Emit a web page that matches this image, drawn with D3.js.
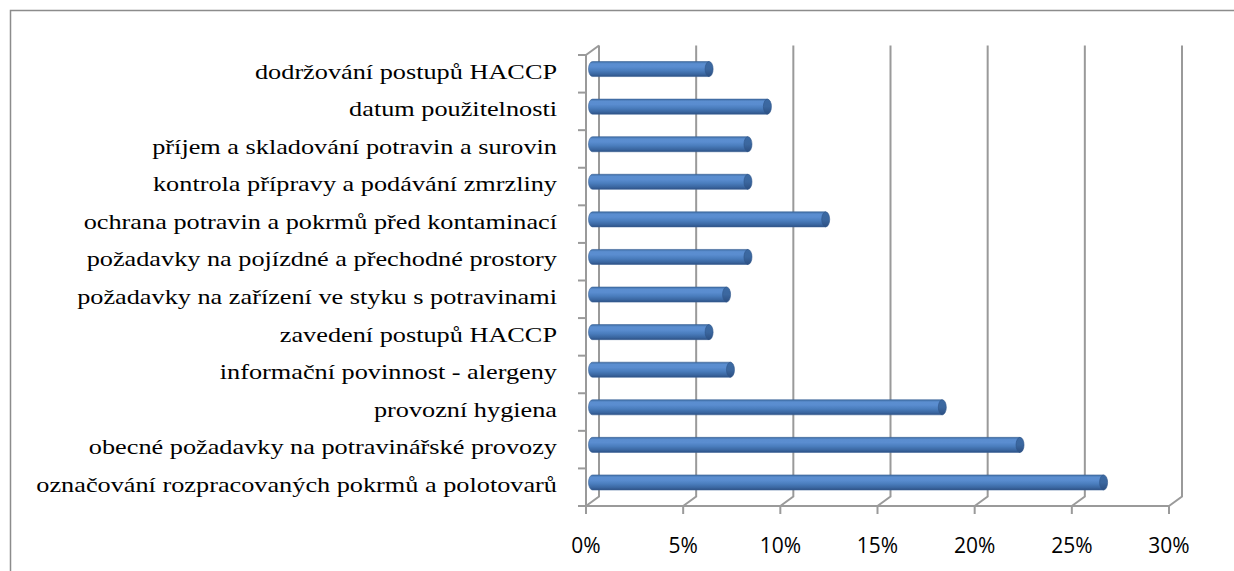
<!DOCTYPE html>
<html>
<head>
<meta charset="utf-8">
<script src="https://cdn.jsdelivr.net/npm/d3@7"></script>
<style>
  html, body { margin: 0; padding: 0; background: #fff; overflow: hidden; }
  #chart { width: 1234px; height: 571px; }
  .cat { font-family: 'Liberation Serif', 'DejaVu Serif', serif; font-size: 22px; }
  .tick { font-family: 'Open Sans', 'Liberation Sans', sans-serif; font-size: 21px; }
</style>
</head>
<body>
<div id="chart"></div>
<script>
// kategorie shora dolů
const categories = [
  'dodržování postupů HACCP',
  'datum použitelnosti',
  'příjem a skladování potravin a surovin',
  'kontrola přípravy a podávání zmrzliny',
  'ochrana potravin a pokrmů před kontaminací',
  'požadavky na pojízdné a přechodné prostory',
  'požadavky na zařízení ve styku s potravinami',
  'zavedení postupů HACCP',
  'informační povinnost - alergeny',
  'provozní hygiena',
  'obecné požadavky na potravinářské provozy',
  'označování rozpracovaných pokrmů a polotovarů'
];
const values = [6.0, 9.0, 8.0, 8.0, 12.0, 8.0, 6.9, 6.0, 7.1, 18.0, 22.0, 26.3];
const tickValues = [0, 5, 10, 15, 20, 25, 30];

const width = 1234, height = 571;
const svg = d3.select('#chart').append('svg')
  .attr('width', width)
  .attr('height', height);

// hloubka 3D
const dx = 13, dy = -9.5;

const x = d3.scaleLinear().domain([0, 30]).range([586, 1169]);
const y = d3.scaleBand().domain(categories).range([55, 506]).paddingInner(0.6).paddingOuter(0.3);
const yb = d3.scaleBand().domain(categories).range([55, 506]);

// rámeček
svg.append('rect')
  .attr('x', 10.5).attr('y', 10.5)
  .attr('width', 1300).attr('height', 700)
  .attr('fill', 'none').attr('stroke', '#8c8c8c').attr('stroke-width', 1.5);

const wall = svg.append('g').attr('stroke', '#9a9a9a').attr('stroke-width', 2).attr('fill', 'none');
const yTop = yb.range()[0], yBot = yb.range()[1];

// zadní stěna - mřížka + podlaha
tickValues.forEach(t => {
  wall.append('path')
    .attr('d', `M${x(t) + dx},${yTop + dy} L${x(t) + dx},${yBot + dy} L${x(t)},${yBot}`);
});
// levá stěna
wall.append('path').attr('d', `M${x(0)},${yBot} L${x(0)},${yTop} L${x(0) + dx},${yTop + dy}`);
// přední hrana podlahy
wall.append('path').attr('d', `M${x(0)},${yBot} L${x(30)},${yBot}`);

// tick marks
const ticksY = categories.map(c => yb(c)).concat([yBot]);
ticksY.forEach(v => {
  wall.append('line').attr('x1', x(0) - 8).attr('x2', x(0)).attr('y1', v).attr('y2', v);
});
tickValues.forEach(t => {
  wall.append('line').attr('x1', x(t)).attr('x2', x(t)).attr('y1', yBot).attr('y2', yBot + 8);
});

// gradient válce
const defs = svg.append('defs');
const grad = defs.append('linearGradient').attr('id', 'cyl')
  .attr('x1', 0).attr('y1', 0).attr('x2', 0).attr('y2', 1);
[[0, '#3f6ea6'], [0.15, '#5b8ed0'], [0.35, '#5a8dd0'], [0.6, '#4a7dbd'], [0.85, '#3a66a0'], [1, '#2d5185']]
  .forEach(s => grad.append('stop').attr('offset', s[0]).attr('stop-color', s[1]));
const capGrad = defs.append('linearGradient').attr('id', 'cap')
  .attr('x1', 0).attr('y1', 0).attr('x2', 0).attr('y2', 1);
[[0, '#3c6aa3'], [0.5, '#3b679f'], [1, '#2c4f82']]
  .forEach(s => capGrad.append('stop').attr('offset', s[0]).attr('stop-color', s[1]));

const bh = y.bandwidth();
const rx = 4;
const bars = svg.append('g').selectAll('g').data(categories).join('g')
  .attr('transform', d => `translate(${dx / 2},${y(d) + dy / 2})`);

bars.append('path')
  .attr('d', (d, i) => {
    const x0 = x(0), x1 = x(values[i]);
    return `M${x0},0 L${x1},0 L${x1},${bh} L${x0},${bh} A${rx},${bh / 2} 0 0 1 ${x0},0 Z`;
  })
  .attr('fill', 'url(#cyl)')
  .attr('stroke', '#3a6296').attr('stroke-width', 0.6);

bars.append('ellipse')
  .attr('cx', (d, i) => x(values[i]))
  .attr('cy', bh / 2)
  .attr('rx', rx).attr('ry', bh / 2)
  .attr('fill', 'url(#cap)')
  .attr('stroke', '#2f558a').attr('stroke-width', 0.6);

// popisky kategorií (v originále jsou vodorovně roztažené)
const labels = svg.append('g').selectAll('text').data(categories).join('text')
  .attr('class', 'cat')
  .attr('text-anchor', 'end')
  .attr('dominant-baseline', 'central')
  .attr('fill', '#000')
  .text(d => d);
const maxW = d3.max(labels.nodes(), n => n.getComputedTextLength());
const sx = 521 / maxW;
labels.attr('transform', d => `translate(557,${yb(d) + yb.bandwidth() / 2 - 3}) scale(${sx},1)`);

// popisky osy x
svg.append('g').selectAll('text').data(tickValues).join('text')
  .attr('class', 'tick')
  .attr('x', d => x(d))
  .attr('y', 553)
  .attr('text-anchor', 'middle')
  .attr('fill', '#000')
  .text(d => d + '%');
</script>
</body>
</html>
